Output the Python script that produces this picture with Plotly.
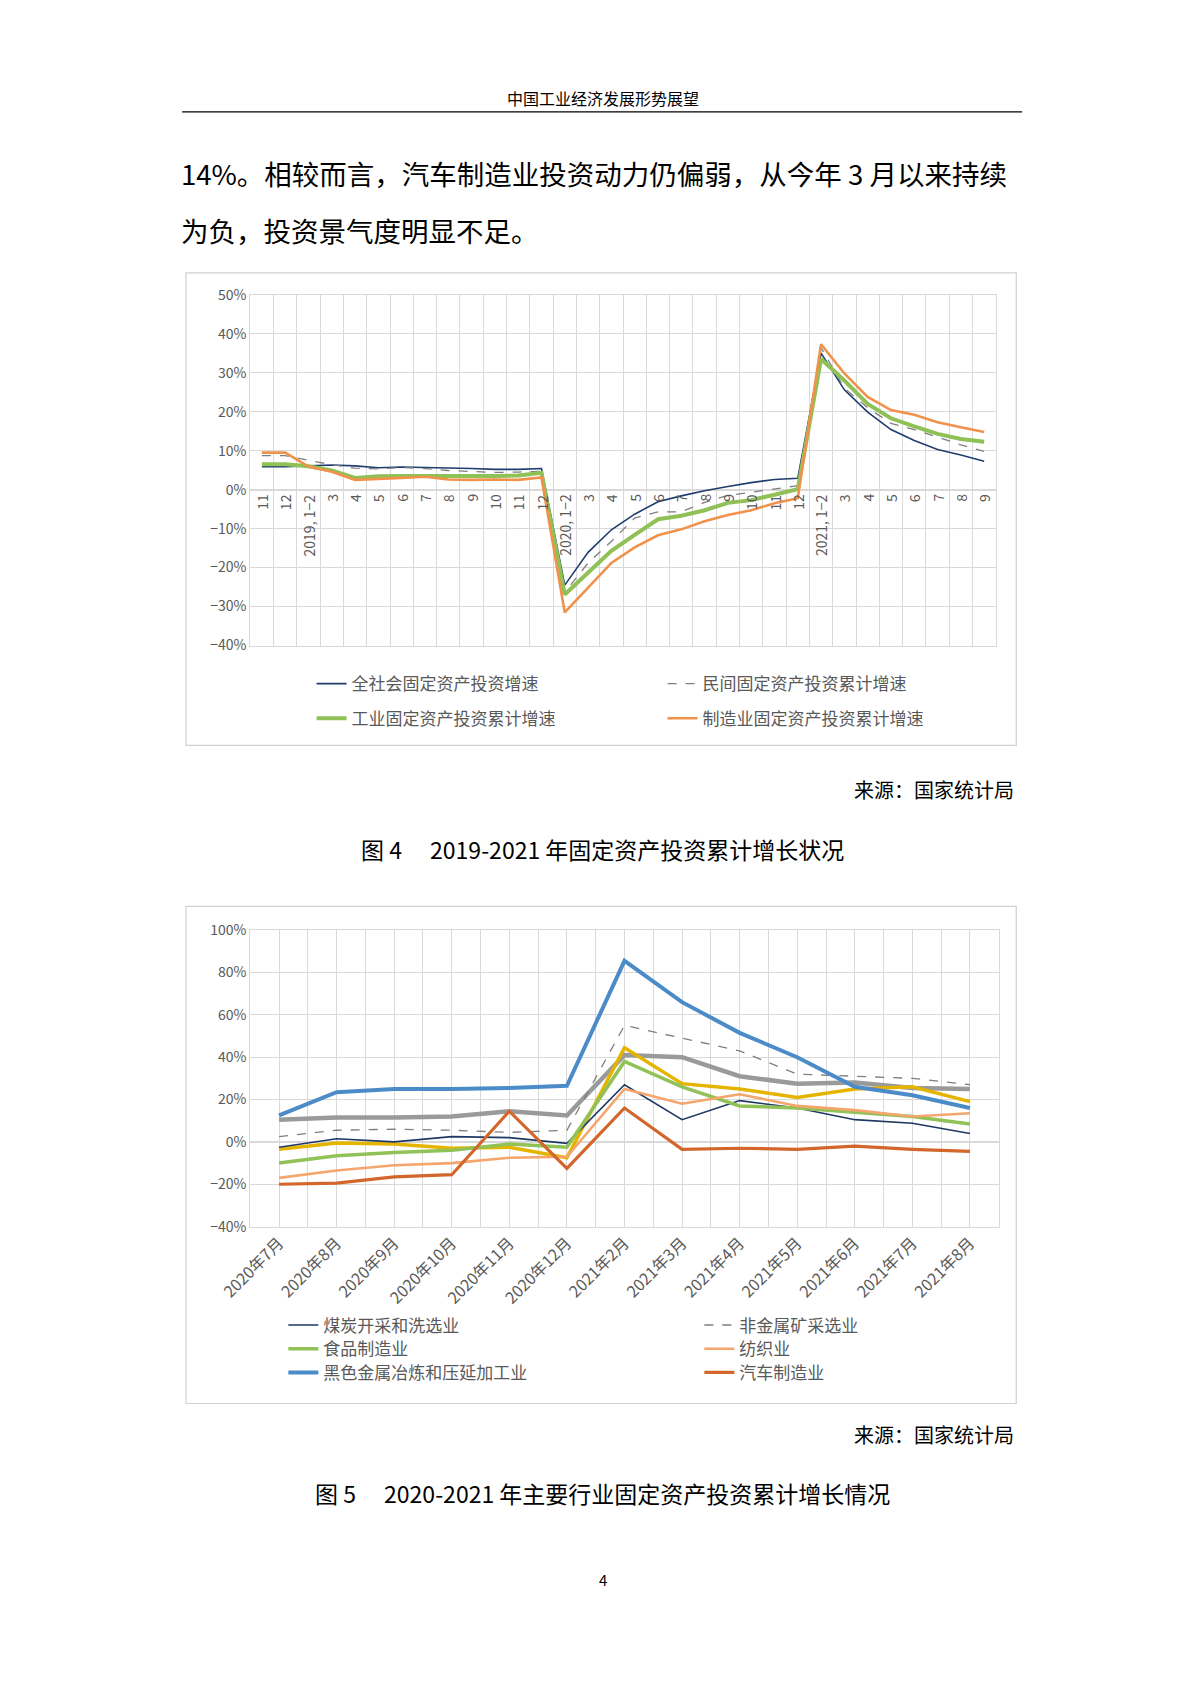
import plotly.graph_objects as go

W, H = 1200, 1698
def py(p):
    return 1 - p / H
def px(p):
    return p / W

# ---------- Chart 1 data ----------
cats1 = ["11", "12", "2019, 1−2", "3", "4", "5", "6", "7", "8", "9", "10", "11", "12",
         "2020, 1−2", "3", "4", "5", "6", "7", "8", "9", "10", "11", "12",
         "2021, 1−2", "3", "4", "5", "6", "7", "8", "9"]
total_inv = [5.9, 5.9, 6.1, 6.3, 6.1, 5.6, 5.8, 5.7, 5.5, 5.4, 5.2, 5.2, 5.4,
             -24.5, -16.1, -10.3, -6.3, -3.1, -1.6, -0.3, 0.8, 1.8, 2.6, 2.9,
             35.0, 25.6, 19.9, 15.4, 12.6, 10.3, 8.9, 7.3]
private_inv = [8.7, 8.7, 7.5, 6.4, 5.5, 5.3, 5.7, 5.4, 4.9, 4.7, 4.4, 4.5, 4.7,
               -26.4, -18.8, -13.3, -7.3, -5.7, -5.7, -3.3, -1.5, -0.7, 0.2, 1.0,
               36.4, 26.0, 21.0, 17.0, 15.4, 13.4, 11.5, 9.8]
industry_inv = [6.5, 6.5, 6.0, 4.9, 3.0, 3.4, 3.5, 3.5, 3.3, 3.3, 3.5, 3.6, 4.3,
                -26.9, -21.4, -15.7, -11.6, -7.6, -6.7, -5.3, -3.4, -2.7, -1.3, 0.1,
                33.5, 28.0, 22.0, 18.3, 16.2, 14.3, 13.0, 12.3]
manuf_inv = [9.5, 9.5, 5.9, 4.6, 2.5, 2.7, 3.0, 3.3, 2.6, 2.5, 2.6, 2.5, 3.1,
             -31.5, -25.2, -18.8, -14.8, -11.7, -10.2, -8.1, -6.5, -5.3, -3.5, -2.2,
             37.3, 29.8, 23.8, 20.4, 19.2, 17.3, 16.0, 14.8]

# ---------- Chart 2 data ----------
cats2 = ["2020年7月", "2020年8月", "2020年9月", "2020年10月", "2020年11月", "2020年12月",
         "2021年2月", "2021年3月", "2021年4月", "2021年5月", "2021年6月", "2021年7月", "2021年8月"]
coal = [-2.5, 1.5, 0, 2.5, 2, -0.7, 27, 10.5, 19.5, 16, 10.5, 8.8, 4]
nonmetal = [2.5, 5.5, 6, 5.5, 4.5, 5.5, 55, 49, 43, 32, 31, 30, 27]
food = [-10, -6.5, -5, -4, -1, -2.5, 38, 26, 17, 16, 14, 12, 8.5]
textile = [-17, -13.5, -11, -10, -7.5, -7, 25, 18, 22.5, 17, 15, 12, 13.5]
ferrous = [12.5, 23.5, 25, 25, 25.5, 26.5, 85.5, 66, 51.5, 40, 26, 22, 16]
auto = [-20, -19.5, -16.5, -15.5, 14.5, -12.5, 16, -3.5, -3, -3.5, -2, -3.5, -4.5]
grey_series = [10.5, 11.5, 11.5, 12, 14.5, 12.5, 41, 40, 31, 27.5, 28, 25.5, 25]
yellow_series = [-3.5, -0.5, -1, -3, -2.5, -7.5, 44.5, 27.5, 25, 21, 25, 26, 19]

FONT = "Noto Sans CJK SC"
fig = go.Figure()

x1 = list(range(len(cats1)))
fig.add_trace(go.Scatter(x=x1, y=total_inv, mode="lines", name="全社会固定资产投资增速",
                         line=dict(color="#1f3d6e", width=1.6), legend="legend", xaxis="x", yaxis="y"))
fig.add_trace(go.Scatter(x=x1, y=private_inv, mode="lines", name="民间固定资产投资累计增速",
                         line=dict(color="#7f7f7f", width=1.3, dash="dash"), legend="legend", xaxis="x", yaxis="y"))
fig.add_trace(go.Scatter(x=x1, y=industry_inv, mode="lines", name="工业固定资产投资累计增速",
                         line=dict(color="#8fc156", width=4), legend="legend2", xaxis="x", yaxis="y"))
fig.add_trace(go.Scatter(x=x1, y=manuf_inv, mode="lines", name="制造业固定资产投资累计增速",
                         line=dict(color="#f0924c", width=2.6), legend="legend2", xaxis="x", yaxis="y"))

x2 = list(range(len(cats2)))
fig.add_trace(go.Scatter(x=x2, y=grey_series, mode="lines", showlegend=False,
                         line=dict(color="#9a9a9a", width=4.5), xaxis="x2", yaxis="y2"))
fig.add_trace(go.Scatter(x=x2, y=yellow_series, mode="lines", showlegend=False,
                         line=dict(color="#e5b400", width=3.5), xaxis="x2", yaxis="y2"))
fig.add_trace(go.Scatter(x=x2, y=coal, mode="lines", name="煤炭开采和洗选业",
                         line=dict(color="#1f3864", width=1.6), legend="legend3", xaxis="x2", yaxis="y2"))
fig.add_trace(go.Scatter(x=x2, y=nonmetal, mode="lines", name="非金属矿采选业",
                         line=dict(color="#7f7f7f", width=1.3, dash="dash"), legend="legend3", xaxis="x2", yaxis="y2"))
fig.add_trace(go.Scatter(x=x2, y=food, mode="lines", name="食品制造业",
                         line=dict(color="#90c258", width=3.5), legend="legend4", xaxis="x2", yaxis="y2"))
fig.add_trace(go.Scatter(x=x2, y=textile, mode="lines", name="纺织业",
                         line=dict(color="#f4a66c", width=2.6), legend="legend4", xaxis="x2", yaxis="y2"))
fig.add_trace(go.Scatter(x=x2, y=ferrous, mode="lines", name="黑色金属冶炼和压延加工业",
                         line=dict(color="#4b8cc8", width=4), legend="legend5", xaxis="x2", yaxis="y2"))
fig.add_trace(go.Scatter(x=x2, y=auto, mode="lines", name="汽车制造业",
                         line=dict(color="#d2662b", width=3.2), legend="legend5", xaxis="x2", yaxis="y2"))

grid = "#d9d9d9"
tickfont = dict(family=FONT, size=14, color="#595959")

def leg(y, x, ew):
    return dict(x=x, y=y, xanchor="left", yanchor="middle", orientation="h",
                entrywidth=ew, entrywidthmode="pixels", traceorder="normal",
                font=dict(family=FONT, size=17, color="#595959"), bgcolor="rgba(0,0,0,0)")

fig.update_layout(
    width=W, height=H, margin=dict(l=0, r=0, t=0, b=0),
    paper_bgcolor="white", plot_bgcolor="white",
    font=dict(family=FONT),
    xaxis=dict(domain=[px(216), px(982)], anchor="y", range=[-0.5, len(cats1) - 0.5],
               showgrid=False, showticklabels=False, zeroline=False,
               minor=dict(dtick=1, tick0=0.5, showgrid=True, gridcolor=grid),
               showline=True, linecolor=grid, mirror=True),
    yaxis=dict(domain=[py(634), py(279)], anchor="x", range=[-40, 50], dtick=10, ticksuffix="%",
               showgrid=True, gridcolor=grid, zeroline=True, zerolinecolor=grid, tickfont=tickfont,
               showline=True, linecolor=grid, mirror=True),
    xaxis2=dict(domain=[px(216), px(985)], anchor="y2", range=[-0.5, 12.5],
                tickmode="array", tickvals=x2, ticktext=cats2, tickangle=-45,
                tickfont=dict(family=FONT, size=16, color="#595959"),
                showgrid=True, gridcolor=grid, minor=dict(dtick=0.5, tick0=0.5, showgrid=True, gridcolor=grid),
                zeroline=False, showline=True, linecolor=grid, mirror=True),
    yaxis2=dict(domain=[py(1222), py(922)], anchor="x2", range=[-40, 100], dtick=20, ticksuffix="%",
                showgrid=True, gridcolor=grid, zeroline=True, zerolinecolor=grid, tickfont=tickfont,
                showline=True, linecolor=grid, mirror=True),
    legend=leg(py(673), px(279), 306),
    legend2=leg(py(708), px(279), 306),
    legend3=leg(py(1322), px(250), 371),
    legend4=leg(py(1346), px(250), 371),
    legend5=leg(py(1370), px(250), 371),
)

for i, c in enumerate(cats1):
    fig.add_annotation(x=x1[i], y=-0.6, xref="x", yref="y", text=c, textangle=-90,
                       showarrow=False, xanchor="center", yanchor="top",
                       font=dict(family=FONT, size=14, color="#595959"))

shapes = [
    dict(type="line", xref="paper", yref="paper", x0=px(146), x1=px(1009), y0=py(94), y1=py(94),
         line=dict(color="black", width=1.2)),
    dict(type="rect", xref="paper", yref="paper", x0=px(150), x1=px(1003), y0=py(257), y1=py(735),
         line=dict(color="#d0d0d0", width=1.2)),
    dict(type="rect", xref="paper", yref="paper", x0=px(150), x1=px(1003), y0=py(898), y1=py(1401),
         line=dict(color="#d0d0d0", width=1.2)),
]
fig.update_layout(shapes=shapes)

def text(t, x, y, size, xanchor="center", color="black"):
    fig.add_annotation(text=t, x=px(x), y=py(y), xref="paper", yref="paper", showarrow=False,
                       xanchor=xanchor, yanchor="middle", font=dict(family=FONT, size=size, color=color))

text("中国工业经济发展形势展望", 578, 80, 16)
text("14%。相较而言，汽车制造业投资动力仍偏弱，从今年 3 月以来持续", 143, 156, 27.5, "left")
text("为负，投资景气度明显不足。", 143, 214, 27.5, "left")
text("来源：国家统计局", 1003, 780, 20, "right")
text("图 4　 2019-2021 年固定资产投资累计增长状况", 578, 840, 23)
text("来源：国家统计局", 1003, 1432, 20, "right")
text("图 5　 2020-2021 年主要行业固定资产投资累计增长情况", 578, 1492, 23)
text("4", 578, 1579, 15)

fig.write_html("out.html")
